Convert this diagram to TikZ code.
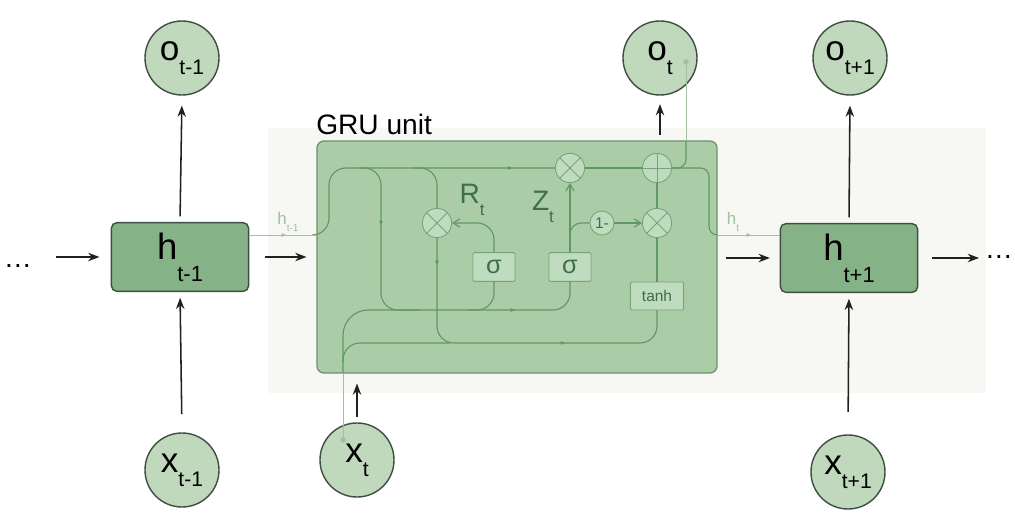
\documentclass[tikz,border=0pt]{standalone}
\usepackage{fontspec}
\setmainfont{Liberation Sans}
\usepackage{graphicx}
\usetikzlibrary{arrows.meta,decorations.markings}

\definecolor{nodefill}{RGB}{192,217,188}
\definecolor{nodedraw}{RGB}{62,78,64}
\definecolor{hfill}{RGB}{134,178,136}
\definecolor{grufill}{RGB}{170,205,168}
\definecolor{grudraw}{RGB}{108,145,110}
\definecolor{gatefill}{RGB}{192,220,190}
\definecolor{gatedraw}{RGB}{118,163,120}
\definecolor{flowcol}{RGB}{98,150,104}
\definecolor{faintcol}{RGB}{160,192,160}
\definecolor{labelcol}{RGB}{62,112,70}
\definecolor{arrowcol}{RGB}{30,34,31}
\definecolor{bgcol}{RGB}{247,247,244}

\newcommand{\idx}[3][-0.4em]{#2\raisebox{#1}{\scalebox{0.6}{#3}}}

\begin{document}
\begin{tikzpicture}[x=0.025cm,y=-0.025cm,
  link/.style={-{Stealth[length=8pt,width=6pt]},line width=1.1pt,draw=arrowcol},
  io/.style={circle,draw=nodedraw,fill=nodefill,line width=1pt,minimum size=1.85cm,inner sep=0pt,font=\fontsize{25}{30}\selectfont},
  hidden/.style={rectangle,rounded corners=4pt,draw=nodedraw,fill=hfill,line width=1pt,minimum width=3.43cm,minimum height=1.72cm,inner sep=0pt,font=\fontsize{26}{30}\selectfont},
  unit/.style={rectangle,rounded corners=5pt,draw=grudraw,fill=grufill,line width=0.9pt,minimum width=10cm,minimum height=5.8cm},
  gate/.style={circle,draw=gatedraw,fill=gatefill,line width=0.6pt,minimum size=0.73cm,inner sep=0pt,text=labelcol},
  mult/.style={gate,path picture={\draw[gatedraw,line width=0.6pt] (path picture bounding box.north west) -- (path picture bounding box.south east) (path picture bounding box.north east) -- (path picture bounding box.south west);}},
  plus/.style={gate,path picture={\draw[gatedraw,line width=0.6pt] (path picture bounding box.north) -- (path picture bounding box.south) (path picture bounding box.west) -- (path picture bounding box.east);}},
  act/.style={rectangle,draw=gatedraw,fill=gatefill,rounded corners=1pt,line width=0.6pt,inner sep=0pt,text=labelcol},
  flow/.style={draw=flowcol,line width=0.8pt,rounded corners=12pt},
  faint/.style={draw=faintcol,line width=0.7pt},
  tip/.style={-{Straight Barb[length=5pt,width=6pt]}},
  midtip/.style={postaction={decorate,decoration={markings,mark=at position #1 with {\arrow{Latex[length=3.5pt,width=3pt]}}}}}
]
\useasboundingbox (0,0) rectangle (1015,517);
\fill[bgcol] (268,128) rectangle (986,393);

% outer chain
\node[inner sep=0pt,font=\fontsize{20}{20}\selectfont] (dl) at (18,266) {\dots};
\node[hidden] (hprev) at (180,257) {\idx[-0.6em]{h}{t-1}};
\node[io] (oprev) at (182,58) {\idx{o}{t-1}};
\node[io] (xprev) at (182,470) {\idx{x}{t-1}};

\node[unit] (gru) at (517,257) {};
\node[anchor=base west,inner sep=0pt,font=\fontsize{20}{20}\selectfont] (grulbl) at (316,135) {GRU unit};

\node[io] (ot) at (660,58) {\idx{o}{t}};
\node[io] (xt) at (357,460) {\idx{x}{t}};

\node[hidden] (hnext) at (849,258) {\idx[-0.6em]{h}{t+1}};
\node[io] (onext) at (850,58) {\idx{o}{t+1}};
\node[io] (xnext) at (848,472) {\idx{x}{t+1}};
\node[inner sep=0pt,font=\fontsize{20}{20}\selectfont] (dr) at (999,257) {\dots};

\draw[link,shorten <=17pt,shorten >=8pt] (dl.east |- hprev) -- (hprev.west);
\draw[link,shorten <=11pt,shorten >=7pt] (hprev.east) -- (gru.west |- hprev.east);
\draw[link,shorten <=6pt,shorten >=7pt] (gru.east |- hnext.west) -- (hnext.west);
\draw[link,shorten <=10pt,shorten >=4pt] (hnext.east) -- (dr.west |- hnext.east);
\draw[link,shorten <=4pt,shorten >=7pt] (hprev.north) -- (oprev.south);
\draw[link,shorten <=13pt,shorten >=4pt] (xprev.north) -- (hprev.south);
\draw[link,shorten <=4pt,shorten >=7pt] (xt.north) -- (xt.north |- gru.south);
\draw[link,shorten <=4pt,shorten >=6pt] (ot.south |- gru.north) -- (ot.south);
\draw[link,shorten <=4pt,shorten >=7pt] (hnext.north) -- (onext.south);
\draw[link,shorten <=16pt,shorten >=4pt] (xnext.north) -- (hnext.south);

% inside the unit
\coordinate (hin) at (317,235);
\coordinate (hout) at (717,235);
\coordinate (brs) at (360,168);
\coordinate (brr) at (413,168);
\coordinate (jsr) at (468,310);
\coordinate (jz) at (570,247);
\coordinate (xin) at (343,373);
\coordinate (xsplit) at (343,362);
\coordinate (xdot) at (343,440);
\coordinate (otexit) at (686,141);
\coordinate (otdot) at (686,62);

\node[mult] (mz) at (570,168) {};
\node[plus] (pl) at (657,168) {};
\node[mult] (mr) at (437,223) {};
\node[gate,minimum size=0.6cm,font=\fontsize{11}{11}\selectfont] (one) at (602,223) {1-};
\node[mult] (mh) at (657,223) {};
\node[act,minimum width=1.05cm,minimum height=0.72cm,font=\fontsize{18}{18}\selectfont] (sr) at (494,267) {σ};
\node[act,minimum width=1.05cm,minimum height=0.72cm,font=\fontsize{18}{18}\selectfont] (sz) at (570,267) {σ};
\node[act,minimum width=1.33cm,minimum height=0.7cm,font=\fontsize{11}{11}\selectfont] (th) at (657,296) {tanh};
\node[text=labelcol,font=\fontsize{20}{20}\selectfont] (rlbl) at (472,200) {\idx{R}{t}};
\node[text=labelcol,font=\fontsize{20}{20}\selectfont] (zlbl) at (543,207) {\idx{Z}{t}};

\draw[flow,midtip=0.86] (hin) -- (329,235) -- (329,168) -- (mz.west);
\draw[flow] (mz.east) -- (pl.west);
\draw[flow,rounded corners=6pt] (pl.east) -- (709,168) -- (709,235) -- (hout);
\draw[flow,rounded corners=6pt] (pl.east) -- (686,168) -- (otexit);
\draw[flow,midtip=0.2,midtip=0.79] (brs) -- (381,168) -- (381,310) -- (570,310) -- (sz.south);
\draw[flow] (jsr) -- (494,310) -- (sr.south);
\draw[flow] (brr) -- (437,168) -- (mr.north);
\draw[flow,midtip=0.08,midtip=0.66] (mr.south) -- (437,343) -- (657,343) -- (th.south);
\draw[flow,rounded corners=18pt] (xin) -- (343,310) -- (420,310);
\draw[flow] (xsplit) -- (343,343) -- (450,343);
\draw[flow,tip] (sr.north) -- (494,223) -- (mr.east);
\draw[flow,tip] (sz.north) -- (mz.south);
\draw[flow,rounded corners=8pt] (jz) -- (570,223) -- (one.west);
\draw[flow,tip] (one.east) -- (mh.west);
\draw[flow] (th.north) -- (mh.south);
\draw[flow] (mh.north) -- (pl.south);

% faint links outside the unit
\draw[faint,midtip=0.55] (hprev.east |- hin) -- (hin);
\draw[faint,midtip=0.55] (hout) -- (hnext.west |- hout);
\draw[faint] (otexit) -- (otdot);
\fill[faintcol] (otdot) circle (2pt);
\draw[faint] (xdot) -- (xin);
\fill[faintcol] (xdot) circle (2pt);
\node[text=faintcol,font=\fontsize{12}{12}\selectfont] (hprevlbl) at (288,222) {\idx{h}{t-1}};
\node[text=faintcol,font=\fontsize{12}{12}\selectfont] (hlbl) at (733,222) {\idx{h}{t}};
\end{tikzpicture}
\end{document}
